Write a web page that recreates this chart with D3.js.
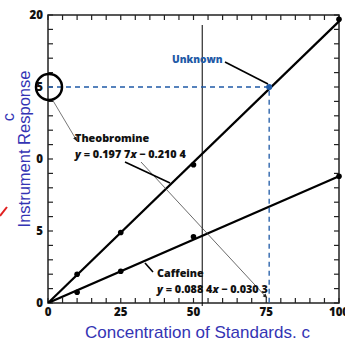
<!DOCTYPE html>
<html><head><meta charset="utf-8">
<script src="https://cdn.jsdelivr.net/npm/d3@7"></script>
<style>body{margin:0;background:#fff}svg{display:block}</style>
</head><body>
<svg id="c" width="345" height="341"></svg>
<script>
// ---- data ----
const concentrations = [10, 25, 50, 100];
const theobromine = [2.0, 4.9, 9.6, 19.7];
const caffeine = [0.75, 2.2, 4.6, 8.8];
const theoFit = {slope: 0.1977, intercept: -0.2104};
const caffFit = {slope: 0.0884, intercept: -0.0303};
const unknown = {x: 76, y: 15};
const xTickValues = [0, 25, 50, 75, 100];
const xTickLabels = ["0", "25", "50", "75", "100"];
const yTickValues = [20, 15, 10, 5, 0];
const yTickLabels = ["20", "5", "0", "5", "0"];

const svg = d3.select("#c");
const L = 48, R = 339, T = 15, B = 303;
const x = d3.scaleLinear().domain([0, 100]).range([L, R]);
const y = d3.scaleLinear().domain([0, 20]).range([B, T]);
const blue = "#1f5aa6", titleBlue = "#3434b4";

// frame
svg.append("rect").attr("x", L).attr("y", T).attr("width", R - L).attr("height", B - T)
  .attr("fill", "none").attr("stroke", "#222").attr("stroke-width", 1.5);

// ticks (inward)
const xMinor = d3.range(0, 101, 5), yMinor = d3.range(0, 21, 1);
const tk = svg.append("g").attr("stroke", "#222").attr("stroke-width", 1.2);
xMinor.forEach(v => {
  tk.append("line").attr("x1", x(v)).attr("x2", x(v)).attr("y1", B).attr("y2", B - 5);
  tk.append("line").attr("x1", x(v)).attr("x2", x(v)).attr("y1", T).attr("y2", T + 5);
});
yMinor.forEach(v => {
  tk.append("line").attr("x1", L).attr("x2", L + 5).attr("y1", y(v)).attr("y2", y(v));
  tk.append("line").attr("x1", R).attr("x2", R - 5).attr("y1", y(v)).attr("y2", y(v));
});

// tick labels
const lab = svg.append("g").attr("font-family", "'Open Sans', 'DejaVu Sans', sans-serif")
  .attr("font-weight", "800").attr("font-size", 11.5).attr("fill", "#111");
xTickValues.forEach((v, i) => lab.append("text").attr("x", x(v)).attr("y", B + 13)
  .attr("text-anchor", "middle").text(xTickLabels[i]));
yTickValues.forEach((v, i) => lab.append("text").attr("x", L - 5).attr("y", y(v) + 4)
  .attr("text-anchor", "end").text(yTickLabels[i]));

// axis titles
svg.append("text").attr("x", 85).attr("y", 338).attr("text-anchor", "start")
  .attr("font-family", "'Liberation Sans', Arial, sans-serif").attr("font-size", 17)
  .attr("fill", titleBlue).text("Concentration of Standards. c");
svg.append("text").attr("transform", "translate(30,149) rotate(-90)").attr("text-anchor", "middle")
  .attr("font-family", "'Liberation Sans', Arial, sans-serif").attr("font-size", 16.5)
  .attr("fill", titleBlue).text("Instrument Response");
svg.append("text").attr("transform", "translate(14,117) rotate(-90)").attr("text-anchor", "middle")
  .attr("font-family", "'Liberation Sans', Arial, sans-serif").attr("font-size", 16.5)
  .attr("fill", titleBlue).text("c");
// red stroke
svg.append("line").attr("x1", 0).attr("y1", 216).attr("x2", 7).attr("y2", 207)
  .attr("stroke", "#e02020").attr("stroke-width", 2);

// clip
svg.append("clipPath").attr("id", "clip").append("rect")
  .attr("x", L).attr("y", T - 3).attr("width", R - L + 3).attr("height", B - T + 3);

// vertical thin line
svg.append("line").attr("x1", x(53)).attr("x2", x(53)).attr("y1", 25).attr("y2", 306)
  .attr("stroke", "#000").attr("stroke-width", 1);

// fit lines
const plot = svg.append("g").attr("clip-path", "url(#clip)");
[theoFit, caffFit].forEach(f => {
  plot.append("line").attr("x1", x(0)).attr("y1", y(Math.max(0, f.intercept)))
    .attr("x2", x(100)).attr("y2", y(f.slope * 100 + f.intercept))
    .attr("stroke", "#000").attr("stroke-width", 2.2);
});

// unknown dashed
svg.append("path").attr("d", `M${x(0)},${y(unknown.y)}H${x(unknown.x)}V${y(0)}`)
  .attr("fill", "none").attr("stroke", blue).attr("stroke-width", 1.3).attr("stroke-dasharray", "5,4");

// points
[theobromine, caffeine].forEach(s => {
  svg.append("g").selectAll("circle").data(concentrations).join("circle")
    .attr("cx", d => x(d)).attr("cy", (d, i) => y(s[i])).attr("r", 2.8).attr("fill", "#000");
});
svg.append("circle").attr("cx", x(unknown.x)).attr("cy", y(unknown.y)).attr("r", 3).attr("fill", blue);

// annotations
svg.append("defs").append("marker").attr("id", "ah").attr("viewBox", "0 0 10 10")
  .attr("refX", 9).attr("refY", 5).attr("markerWidth", 6).attr("markerHeight", 6)
  .attr("orient", "auto").append("path").attr("d", "M0,1L10,5L0,9z").attr("fill", "#222");
svg.append("line").attr("x1", 52).attr("y1", 99).attr("x2", 77).attr("y2", 141)
  .attr("stroke", "#555").attr("stroke-width", 0.8).attr("marker-end", "url(#ah)");
svg.append("line").attr("x1", 141).attr("y1", 162).attr("x2", 267).attr("y2", 298)
  .attr("stroke", "#444").attr("stroke-width", 0.8).attr("marker-end", "url(#ah)");

svg.append("circle").attr("cx", 49).attr("cy", 87).attr("r", 13).attr("fill", "none")
  .attr("stroke", "#000").attr("stroke-width", 2.5);

const ann = svg.append("g").attr("font-family", "'Open Sans', 'DejaVu Sans', sans-serif")
  .attr("font-weight", "800").attr("font-size", 10.8);
ann.append("text").attr("x", 75).attr("y", 142).attr("fill", "#111").text("Theobromine");
ann.append("text").attr("x", 75).attr("y", 158).attr("fill", "#111")
  .html('<tspan font-style="italic">y</tspan> = 0.197 7<tspan font-style="italic">x</tspan> − 0.210 4');
ann.append("text").attr("x", 157).attr("y", 277).attr("fill", "#111").text("Caffeine");
ann.append("text").attr("x", 157).attr("y", 293).attr("fill", "#111")
  .html('<tspan font-style="italic">y</tspan> = 0.088 4<tspan font-style="italic">x</tspan> − 0.030 3');
ann.append("text").attr("x", 172).attr("y", 63).attr("fill", blue).attr("font-size", 10.2).text("Unknown");

const leader = [[125, 162, 170, 183], [145, 263, 153, 272], [225, 62, 268, 84]];
leader.forEach(l => svg.append("line").attr("x1", l[0]).attr("y1", l[1]).attr("x2", l[2]).attr("y2", l[3])
  .attr("stroke", "#000").attr("stroke-width", 1.6));
</script>
</body></html>
